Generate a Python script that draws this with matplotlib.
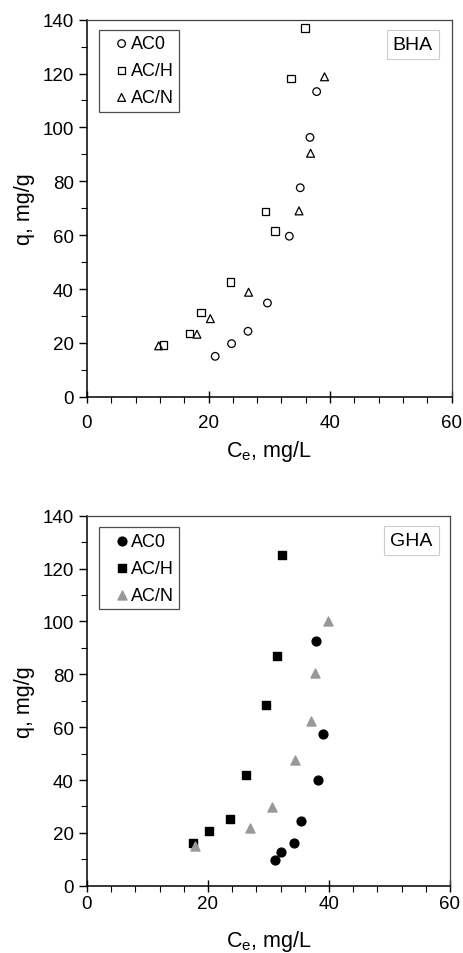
import matplotlib.pyplot as plt
from matplotlib.ticker import MultipleLocator

plt.rcParams['font.family'] = ['Liberation Sans', 'DejaVu Sans']

# BHA adsorption data
bha_ac0_x = [21.1, 23.8, 26.5, 29.7, 33.3, 35.1, 36.7, 37.8]
bha_ac0_y = [15.0, 19.7, 24.3, 34.8, 59.6, 77.6, 96.3, 113.3]
bha_ach_x = [12.6, 16.9, 18.8, 23.6, 30.9, 29.4, 33.6, 35.9]
bha_ach_y = [19.2, 23.5, 31.3, 42.7, 61.6, 68.8, 118.2, 137.0]
bha_acn_x = [11.8, 18.1, 20.3, 26.6, 34.9, 36.8, 39.1]
bha_acn_y = [18.9, 23.2, 29.0, 38.8, 69.0, 90.4, 118.8]

# GHA adsorption data
gha_ac0_x = [31.1, 32.1, 34.2, 35.4, 38.2, 39.0, 37.9]
gha_ac0_y = [9.7, 12.6, 16.2, 24.6, 40.0, 57.3, 92.7]
gha_ach_x = [17.5, 20.2, 23.7, 26.2, 29.6, 31.4, 32.3]
gha_ach_y = [16.2, 20.8, 25.3, 41.8, 68.4, 87.0, 125.1]
gha_acn_x = [17.9, 26.9, 30.6, 34.4, 37.1, 37.7, 39.8]
gha_acn_y = [15.0, 21.7, 29.8, 47.7, 62.3, 80.5, 100.0]

fig = plt.figure(figsize=(4.64, 9.54), dpi=100)
ax1 = fig.add_axes([0.1875, 0.5831, 0.7856, 0.3952])
ax2 = fig.add_axes([0.1875, 0.0705, 0.7823, 0.3878])


def style_axes(ax, tag, xpad, xlabelpad, legtop):
    ax.set_xlim(0, 60)
    ax.set_ylim(0, 140)
    ax.xaxis.set_major_locator(MultipleLocator(20))
    ax.xaxis.set_minor_locator(MultipleLocator(4))
    ax.yaxis.set_major_locator(MultipleLocator(20))
    ax.yaxis.set_minor_locator(MultipleLocator(10))
    ax.tick_params(axis='x', which='major', direction='inout', length=9, width=1, labelsize=13.5, pad=xpad)
    ax.tick_params(axis='x', which='minor', direction='out', length=4, width=0.8)
    ax.tick_params(axis='y', which='major', direction='out', length=6, width=1, labelsize=13.5)
    ax.tick_params(axis='y', which='minor', direction='out', length=4, width=0.8)
    for s in ['left', 'bottom']:
        ax.spines[s].set_linewidth(1.1)
    for s in ['top', 'right']:
        ax.spines[s].set_linewidth(0.9)
        ax.spines[s].set_color('#444444')
    ax.set_xlabel('C$_\\mathregular{e}$, mg/L', fontsize=15.5, labelpad=xlabelpad)
    ax.set_ylabel('q, mg/g', fontsize=15.5, labelpad=5)
    ax.text(0.894, 0.934, tag, transform=ax.transAxes, ha='center', va='center', fontsize=14,
            bbox=dict(boxstyle='square,pad=0.3', fc='white', ec='#cccccc', lw=0.8))
    leg = ax.legend(loc='upper left', bbox_to_anchor=(0.033, legtop), fontsize=13, frameon=True,
                    fancybox=False, handletextpad=-0.45, handlelength=1.9, borderpad=0.3,
                    labelspacing=0.55, borderaxespad=0)
    leg.get_frame().set_edgecolor('#222222')
    leg.get_frame().set_linewidth(0.9)


ax1.scatter(bha_ac0_x, bha_ac0_y, marker='o', s=30, facecolors='none', edgecolors='black', linewidths=0.9, label='AC0')
ax1.scatter(bha_ach_x, bha_ach_y, marker='s', s=30, facecolors='none', edgecolors='black', linewidths=0.9, label='AC/H')
ax1.scatter(bha_acn_x, bha_acn_y, marker='^', s=32, facecolors='none', edgecolors='black', linewidths=0.9, label='AC/N')
style_axes(ax1, 'BHA', 8, 5, 0.973)

ax2.scatter(gha_ac0_x, gha_ac0_y, marker='o', s=40, color='black', label='AC0')
ax2.scatter(gha_ach_x, gha_ach_y, marker='s', s=40, color='black', label='AC/H')
ax2.scatter(gha_acn_x, gha_acn_y, marker='^', s=42, color='#999999', label='AC/N')
style_axes(ax2, 'GHA', 2, 12, 0.969)

fig.savefig('out.png', dpi=100)
